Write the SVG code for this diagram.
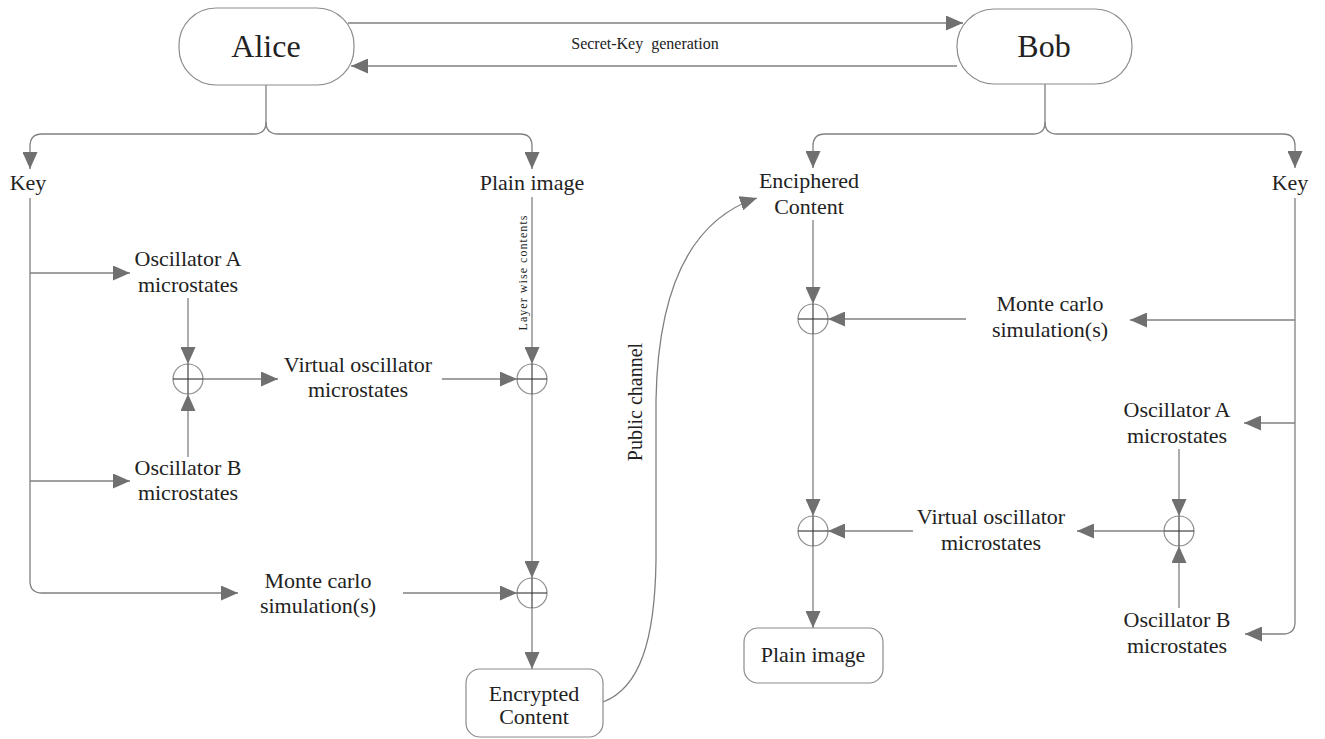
<svg xmlns="http://www.w3.org/2000/svg" width="1325" height="739" viewBox="0 0 1325 739">
<style>
.t{font-size:22px;fill:#222;text-anchor:middle}
.big{font-size:32px}
.sm{font-size:16px}
.ca{fill:none;stroke:#808080;stroke-width:1.3;marker-end:url(#ah)}
.box{fill:#fff;stroke:#8c8c8c;stroke-width:1.2}
.ring{fill:#fff;stroke:#8c8c8c;stroke-width:1.2}
.cross{stroke:#333;stroke-width:1.1}
</style>
<defs>
<marker id="ah" viewBox="0 0 17 15" refX="17" refY="7.5" markerWidth="17" markerHeight="15" markerUnits="userSpaceOnUse" orient="auto">
<path d="M0,0 L17,7.5 L0,15 z" fill="#707070"/>
</marker>
<g id="xor"><circle class="ring" r="15"/><line class="cross" x1="-15" y1="0" x2="15" y2="0"/><line class="cross" x1="0" y1="-15" x2="0" y2="15"/></g>
</defs>
<rect width="1325" height="739" fill="#fff"/>

<g id="connectors">
<path class="ca" d="M348,23 L963,23"/>
<path class="ca" d="M957,66 L351,66"/>
<path class="ca" d="M266,85 L266,122 Q266,134 254,134 L42,134 Q30,134 30,146 L30,169"/>
<path class="ca" d="M266,122 Q266,134 278,134 L520,134 Q532,134 532,146 L532,169"/>
<path class="ca" d="M30,198 L30,581 Q30,593 42,593 L238,593"/>
<path class="ca" d="M30,273 L130,273"/>
<path class="ca" d="M30,481 L130,481"/>
<path class="ca" d="M188,298 L188,364"/>
<path class="ca" d="M188,457 L188,394"/>
<path class="ca" d="M203,379 L278,379"/>
<path class="ca" d="M442,379 L517,379"/>
<path class="ca" d="M532,197 L532,364"/>
<path class="ca" d="M532,394 L532,578"/>
<path class="ca" d="M403,593 L517,593"/>
<path class="ca" d="M532,608 L532,669"/>
<path class="ca" d="M603,702 C640,688 655,640 656,560 L656,400 C658,290 690,220 757,198"/>
<path class="ca" d="M1045,84 L1045,122 Q1045,134 1033,134 L825,134 Q813,134 813,146 L813,168"/>
<path class="ca" d="M1045,122 Q1045,134 1057,134 L1283,134 Q1295,134 1295,146 L1295,168"/>
<path class="ca" d="M1295,198 L1295,622 Q1295,634 1283,634 L1245,634"/>
<path class="ca" d="M1295,320 L1130,320"/>
<path class="ca" d="M1295,423 L1244,423"/>
<path class="ca" d="M813,220 L813,304"/>
<path class="ca" d="M966,319 L828,319"/>
<path class="ca" d="M813,334 L813,516"/>
<path class="ca" d="M913,531 L828,531"/>
<path class="ca" d="M1164,531 L1077,531"/>
<path class="ca" d="M1179,449 L1179,516"/>
<path class="ca" d="M1179,608 L1179,546"/>
<path class="ca" d="M813,546 L813,628"/>
</g>

<g font-family="'Liberation Serif', 'Times New Roman', serif">
<g id="label-secret"><text class="t sm" x="645" y="49" xml:space="preserve">Secret-Key  generation</text></g>
<g id="label-layer"><text class="t" style="font-size:12px" transform="translate(527,273) rotate(-90)" textLength="115" lengthAdjust="spacing">Layer wise contents</text></g>
<g id="label-public"><text class="t" style="font-size:20px" transform="translate(642,402) rotate(-90)">Public channel</text></g>

<g id="alice"><rect class="box" x="179" y="8" width="175" height="77" rx="37"/><text class="t big" x="266" y="57">Alice</text></g>
<g id="bob"><rect class="box" x="957" y="9" width="175" height="75" rx="37"/><text class="t big" x="1044" y="57">Bob</text></g>

<g id="key-a"><text class="t" x="28" y="190">Key</text></g>
<g id="plain-a"><text class="t" x="532" y="190">Plain image</text></g>
<g id="oscA-a"><text class="t" x="188" y="266">Oscillator A</text><text class="t" x="188" y="292">microstates</text></g>
<g id="oscB-a"><text class="t" x="188" y="475">Oscillator B</text><text class="t" x="188" y="500">microstates</text></g>
<g id="virtual-a"><text class="t" x="358" y="372">Virtual oscillator</text><text class="t" x="358" y="397">microstates</text></g>
<g id="monte-a"><text class="t" x="318" y="588">Monte carlo</text><text class="t" x="318" y="613">simulation(s)</text></g>
<g id="xor-a1"><use href="#xor" x="188" y="379"/></g>
<g id="xor-a2"><use href="#xor" x="532" y="379"/></g>
<g id="xor-a3"><use href="#xor" x="532" y="593"/></g>
<g id="encrypted"><rect class="box" x="466" y="669" width="137" height="68" rx="14"/><text class="t" x="534" y="701">Encrypted</text><text class="t" x="534" y="724">Content</text></g>

<g id="enciphered"><text class="t" x="809" y="188">Enciphered</text><text class="t" x="809" y="214">Content</text></g>
<g id="key-b"><text class="t" x="1290" y="190">Key</text></g>
<g id="monte-b"><text class="t" x="1050" y="311">Monte carlo</text><text class="t" x="1050" y="337">simulation(s)</text></g>
<g id="oscA-b"><text class="t" x="1177" y="417">Oscillator A</text><text class="t" x="1177" y="443">microstates</text></g>
<g id="virtual-b"><text class="t" x="991" y="524">Virtual oscillator</text><text class="t" x="991" y="550">microstates</text></g>
<g id="oscB-b"><text class="t" x="1177" y="627">Oscillator B</text><text class="t" x="1177" y="653">microstates</text></g>
<g id="xor-b1"><use href="#xor" x="813" y="319"/></g>
<g id="xor-b2"><use href="#xor" x="813" y="531"/></g>
<g id="xor-b3"><use href="#xor" x="1179" y="531"/></g>
<g id="plain-b"><rect class="box" x="744" y="628" width="139" height="55" rx="14"/><text class="t" x="813" y="662">Plain image</text></g>
</g>
</svg>
